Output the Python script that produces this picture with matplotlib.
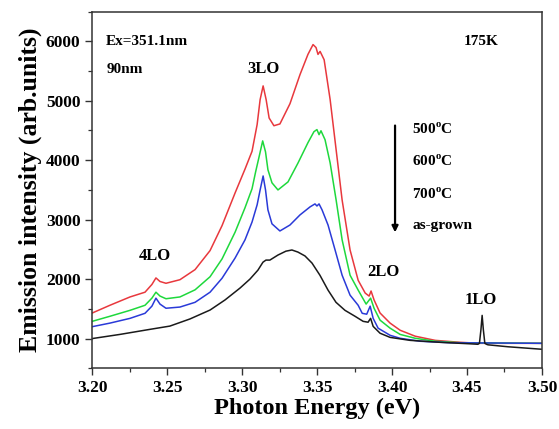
import matplotlib
matplotlib.use("Agg")
import matplotlib.pyplot as plt
from matplotlib.ticker import MultipleLocator, FixedLocator

plt.rcParams['font.family'] = ['Liberation Serif', 'DejaVu Serif']
plt.rcParams['font.weight'] = 'bold'

# Photoluminescence spectra (175 K, Ex = 351.1 nm), 90 nm film
energy_500 = [3.200, 3.2118, 3.2252, 3.2352, 3.2398, 3.2425, 3.2452, 3.2492, 3.2585, 3.2686,
              3.2786, 3.2866, 3.2953, 3.3019, 3.3066, 3.3100, 3.3120, 3.3140, 3.3160, 3.3180,
              3.3212, 3.3252, 3.3319, 3.3386, 3.3439, 3.3473, 3.3493, 3.3506, 3.3520, 3.3547,
              3.3587, 3.3627, 3.3667, 3.3720, 3.3774, 3.3821, 3.3847, 3.3860, 3.3880, 3.3920,
              3.3987, 3.4054, 3.4154, 3.4288, 3.4455, 3.4588, 3.500]
intens_500 = [1430, 1560, 1700, 1780, 1910, 2020, 1960, 1930, 1990, 2160,
              2480, 2900, 3450, 3850, 4150, 4600, 5020, 5250, 5020, 4710,
              4580, 4610, 4950, 5440, 5780, 5945, 5895, 5780, 5830, 5690,
              5020, 4175, 3330, 2490, 1980, 1765, 1715, 1800, 1650, 1430,
              1260, 1140, 1040, 970, 937, 920, 920]

energy_600 = [3.200, 3.2118, 3.2252, 3.2352, 3.2398, 3.2425, 3.2452, 3.2492, 3.2585, 3.2686,
              3.2786, 3.2866, 3.2953, 3.3019, 3.3066, 3.3090, 3.3116, 3.3137, 3.3156, 3.3172,
              3.3199, 3.3239, 3.3306, 3.3373, 3.3439, 3.3479, 3.3499, 3.3513, 3.3526, 3.3553,
              3.3587, 3.3627, 3.3667, 3.3720, 3.3774, 3.3827, 3.3857, 3.3880, 3.3920, 3.3987,
              3.4054, 3.4154, 3.4288, 3.4455, 3.500]
intens_600 = [1290, 1375, 1475, 1560, 1680, 1780, 1715, 1670, 1700, 1820,
              2040, 2340, 2790, 3200, 3520, 3805, 4090, 4325, 4140, 3840,
              3620, 3500, 3635, 3955, 4295, 4480, 4515, 4430, 4495, 4345,
              3955, 3330, 2660, 2065, 1815, 1580, 1680, 1510, 1310, 1175,
              1070, 1005, 955, 930, 920]

energy_700 = [3.200, 3.2118, 3.2252, 3.2352, 3.2398, 3.2425, 3.2452, 3.2492, 3.2585, 3.2686,
              3.2786, 3.2866, 3.2953, 3.3019, 3.3066, 3.3100, 3.3120, 3.3140, 3.3156, 3.3172,
              3.3199, 3.3252, 3.3319, 3.3386, 3.3453, 3.3486, 3.3499, 3.3513, 3.3533, 3.3573,
              3.3620, 3.3667, 3.3720, 3.3774, 3.3801, 3.3831, 3.3854, 3.3874, 3.3907, 3.3987,
              3.4054, 3.4187, 3.4387, 3.500]
intens_700 = [1200, 1260, 1340, 1425, 1545, 1680, 1580, 1510, 1530, 1610,
              1780, 2015, 2355, 2660, 2960, 3250, 3500, 3735, 3500, 3165,
              2930, 2810, 2910, 3080, 3215, 3265, 3230, 3265, 3165, 2910,
              2490, 2065, 1730, 1560, 1425, 1410, 1545, 1340, 1175, 1055,
              1005, 955, 930, 920]

energy_asgrown = [3.200, 3.2185, 3.2385, 3.2518, 3.2652, 3.2786, 3.2886, 3.2986, 3.3052, 3.3105,
                  3.3139, 3.3159, 3.3185, 3.3239, 3.3292, 3.3332, 3.3372, 3.3419, 3.3466, 3.3519,
                  3.3573, 3.3626, 3.3686, 3.3753, 3.3807, 3.3840, 3.3857, 3.3874, 3.3920, 3.3987,
                  3.4120, 3.4320, 3.4520, 3.4573, 3.4583, 3.4593, 3.4601, 3.4609, 3.4619, 3.4630,
                  3.4640, 3.4774, 3.500]
intens_asgrown = [1000, 1070, 1155, 1210, 1330, 1480, 1650, 1850, 2000, 2150,
                  2285, 2320, 2320, 2405, 2470, 2490, 2455, 2390, 2270, 2065,
                  1815, 1610, 1475, 1375, 1290, 1275, 1340, 1205, 1090, 1020,
                  970, 937, 912, 904, 920, 1150, 1390, 1150, 920, 904,
                  895, 862, 820]

series = [
    (energy_500, intens_500, '#e8383d'),
    (energy_600, intens_600, '#1ed83c'),
    (energy_700, intens_700, '#2a3ad8'),
    (energy_asgrown, intens_asgrown, '#1a1a1a'),
]

xticks = [3.20, 3.25, 3.30, 3.35, 3.40, 3.45, 3.50]
yticks = [1000, 2000, 3000, 4000, 5000, 6000]

fig = plt.figure(figsize=(5.59, 4.29), dpi=100)
ax = fig.add_axes([0.165, 0.1415, 0.8045, 0.8315])

for x, y, c in series:
    ax.plot(x, y, color=c, lw=1.1)

ax.set_xlim(3.20, 3.50)
ax.set_ylim(500, 6500)
ax.xaxis.set_major_locator(FixedLocator(xticks))
ax.xaxis.set_minor_locator(MultipleLocator(0.025))
ax.yaxis.set_major_locator(FixedLocator(yticks))
ax.yaxis.set_minor_locator(MultipleLocator(500))
ax.set_xticklabels([f"{t:.2f}" for t in xticks])
ax.set_yticklabels([str(t) for t in yticks])
ax.tick_params(which='major', direction='out', length=5, width=1.0, labelsize=12.5, color='#333333')
ax.tick_params(which='minor', direction='out', length=3, width=0.9, color='#333333')
for s in ax.spines.values():
    s.set_color('#333333')
    s.set_linewidth(1.1)

ax.set_xlabel('Photon Energy (eV)', fontsize=17.5, fontweight='bold', labelpad=1)
ax.set_ylabel('Emission intensity (arb.units)', fontsize=18.5, fontweight='bold', labelpad=3)

tkw = dict(transform=ax.transData, fontweight='bold', fontsize=11)
ax.text(3.2093, 6000, 'Ex=351.1nm', ha='left', va='center', **tkw)
ax.text(3.2093, 5530, '90nm', ha='left', va='center', **tkw)
ax.text(3.4480, 6000, '175K', ha='left', va='center', **tkw)
ax.text(3.3145, 5530, '3LO', ha='center', va='center', fontsize=12, fontweight='bold')
ax.text(3.2415, 2390, '4LO', ha='center', va='center', fontsize=12, fontweight='bold')
ax.text(3.3945, 2120, '2LO', ha='center', va='center', fontsize=12, fontweight='bold')
ax.text(3.4590, 1650, '1LO', ha='center', va='center', fontsize=12, fontweight='bold')

deg = '$^{\\mathregular{o}}$'
ax.text(3.4135, 4530, '500' + deg + 'C', ha='left', va='center', **tkw)
ax.text(3.4135, 3980, '600' + deg + 'C', ha='left', va='center', **tkw)
ax.text(3.4135, 3430, '700' + deg + 'C', ha='left', va='center', **tkw)
ax.text(3.4135, 2900, 'as-grown', ha='left', va='center', **tkw)
ax.annotate('', xy=(3.4020, 2740), xytext=(3.4020, 4630),
            arrowprops=dict(arrowstyle='-|>', color='black', lw=1.6, mutation_scale=9))

fig.savefig('out.png', dpi=100)
